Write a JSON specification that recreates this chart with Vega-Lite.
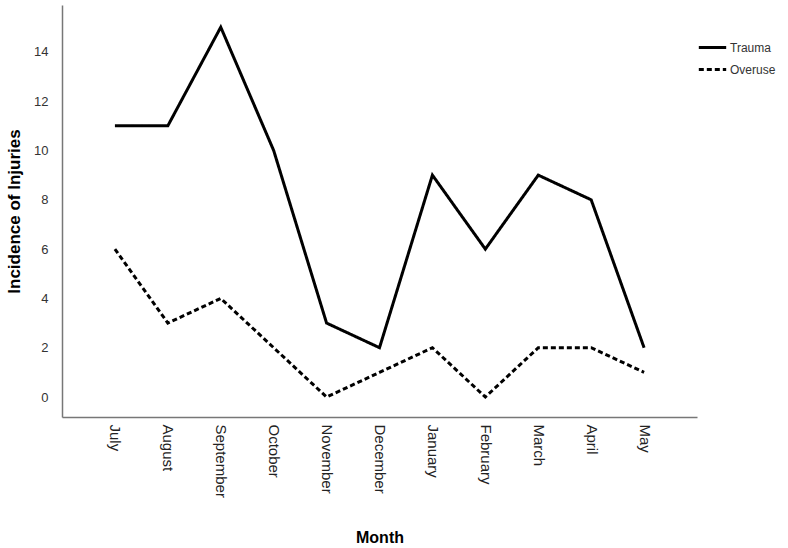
{
  "$schema": "https://vega.github.io/schema/vega-lite/v6.json",
  "width": 635,
  "height": 412,
  "autosize": "none",
  "padding": {"left": 62, "top": 5, "right": 91, "bottom": 131},
  "background": "white",
  "config": {
    "font": "Liberation Sans",
    "view": {"stroke": null}
  },
  "data": {
    "values": [
      {"Month": "July", "Type": "Trauma", "Count": 11},
      {"Month": "August", "Type": "Trauma", "Count": 11},
      {"Month": "September", "Type": "Trauma", "Count": 15},
      {"Month": "October", "Type": "Trauma", "Count": 10},
      {"Month": "November", "Type": "Trauma", "Count": 3},
      {"Month": "December", "Type": "Trauma", "Count": 2},
      {"Month": "January", "Type": "Trauma", "Count": 9},
      {"Month": "February", "Type": "Trauma", "Count": 6},
      {"Month": "March", "Type": "Trauma", "Count": 9},
      {"Month": "April", "Type": "Trauma", "Count": 8},
      {"Month": "May", "Type": "Trauma", "Count": 2},
      {"Month": "July", "Type": "Overuse", "Count": 6},
      {"Month": "August", "Type": "Overuse", "Count": 3},
      {"Month": "September", "Type": "Overuse", "Count": 4},
      {"Month": "October", "Type": "Overuse", "Count": 2},
      {"Month": "November", "Type": "Overuse", "Count": 0},
      {"Month": "December", "Type": "Overuse", "Count": 1},
      {"Month": "January", "Type": "Overuse", "Count": 2},
      {"Month": "February", "Type": "Overuse", "Count": 0},
      {"Month": "March", "Type": "Overuse", "Count": 2},
      {"Month": "April", "Type": "Overuse", "Count": 2},
      {"Month": "May", "Type": "Overuse", "Count": 1}
    ]
  },
  "mark": {"type": "line", "strokeWidth": 3, "color": "black"},
  "encoding": {
    "x": {
      "field": "Month",
      "type": "ordinal",
      "sort": null,
      "scale": {"type": "point", "padding": 1.05},
      "axis": {
        "title": "Month",
        "titleFontSize": 16,
        "titleFontWeight": "bold",
        "titleColor": "black",
        "titlePadding": 32,
        "labelAngle": 90,
        "labelAlign": "left",
        "labelBaseline": "middle",
        "labelFontSize": 15,
        "labelColor": "#222",
        "labelPadding": 7,
        "ticks": false,
        "domainColor": "#777",
        "domainWidth": 1.5,
        "grid": false
      }
    },
    "y": {
      "field": "Count",
      "type": "quantitative",
      "scale": {"domain": [-0.81, 15.9], "nice": false, "zero": false},
      "axis": {
        "title": "Incidence of Injuries",
        "titleFontSize": 17,
        "titleFontWeight": "bold",
        "titleColor": "black",
        "titlePadding": 10,
        "values": [0, 2, 4, 6, 8, 10, 12, 14],
        "labelFontSize": 13,
        "labelColor": "#333",
        "labelPadding": 14,
        "ticks": false,
        "domainColor": "#777",
        "domainWidth": 1.5,
        "grid": false
      }
    },
    "strokeDash": {
      "field": "Type",
      "type": "nominal",
      "sort": ["Trauma", "Overuse"],
      "scale": {"domain": ["Trauma", "Overuse"], "range": [[1, 0], [5, 3]]},
      "legend": {
        "title": null,
        "orient": "none",
        "legendX": 635,
        "legendY": 27,
        "symbolType": "stroke",
        "symbolSize": 750,
        "symbolStrokeWidth": 3,
        "symbolStrokeColor": "black",
        "labelFontSize": 12,
        "labelColor": "#333",
        "labelOffset": 2,
        "rowPadding": -9
      }
    }
  }
}
